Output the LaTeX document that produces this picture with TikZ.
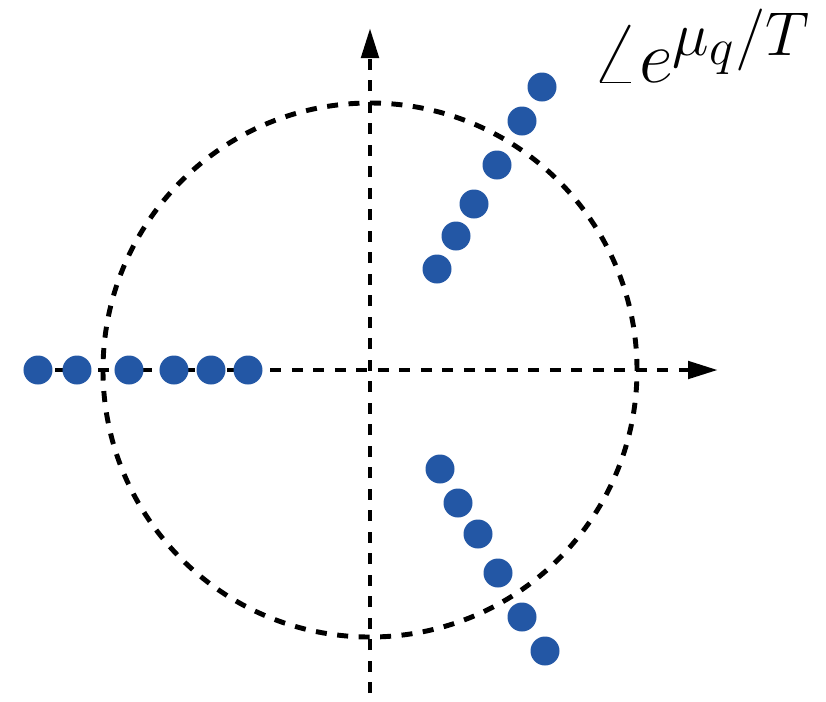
\documentclass[tikz,border=0pt]{standalone}
\usepackage{tikz}
\usetikzlibrary{arrows.meta}
\definecolor{puntoazul}{HTML}{2357A5}
\tikzset{
  eje/.style={line width=1.4pt, dash pattern=on 0.11cm off 0.105cm, -{Triangle[length=3mm, width=1.7mm]}},
  contorno/.style={line width=1.4pt, dash pattern=on 0.11cm off 0.105cm},
  punto/.style={circle, fill=puntoazul, inner sep=0pt, minimum size=0.29cm},
}
\begin{document}
\begin{tikzpicture}
  \useasboundingbox (-3.70,-3.31) rectangle (4.56,3.70);
  \coordinate (o) at (0,0);
  \coordinate (xi) at (-3.36,0); \coordinate (xf) at (3.48,0);
  \coordinate (yi) at (0,-3.23); \coordinate (yf) at (0,3.42);
  \draw[contorno] (o) circle (2.67);
  \draw[eje] (xi) -- (xf);
  \draw[eje] (yi) -- (yf);
  % ceros sobre el eje real negativo
  \foreach \x [count=\i] in {-3.32,-2.93,-2.41,-1.96,-1.59,-1.22}
    \node[punto] (izq\i) at (\x,0) {};
  % ceros en el semiplano superior
  \foreach \x/\y [count=\i] in {0.67/1.01,0.86/1.34,1.04/1.66,1.27/2.05,1.52/2.49,1.72/2.83}
    \node[punto] (sup\i) at (\x,\y) {};
  % ceros en el semiplano inferior
  \foreach \x/\y [count=\i] in {0.70/-0.99,0.88/-1.33,1.08/-1.64,1.28/-2.03,1.52/-2.47,1.75/-2.81}
    \node[punto] (inf\i) at (\x,\y) {};
  \node[font=\Huge, scale=0.85] (fase) at (3.31,3.24) {$\angle e^{\mu_q/T}$};
\end{tikzpicture}
\end{document}
